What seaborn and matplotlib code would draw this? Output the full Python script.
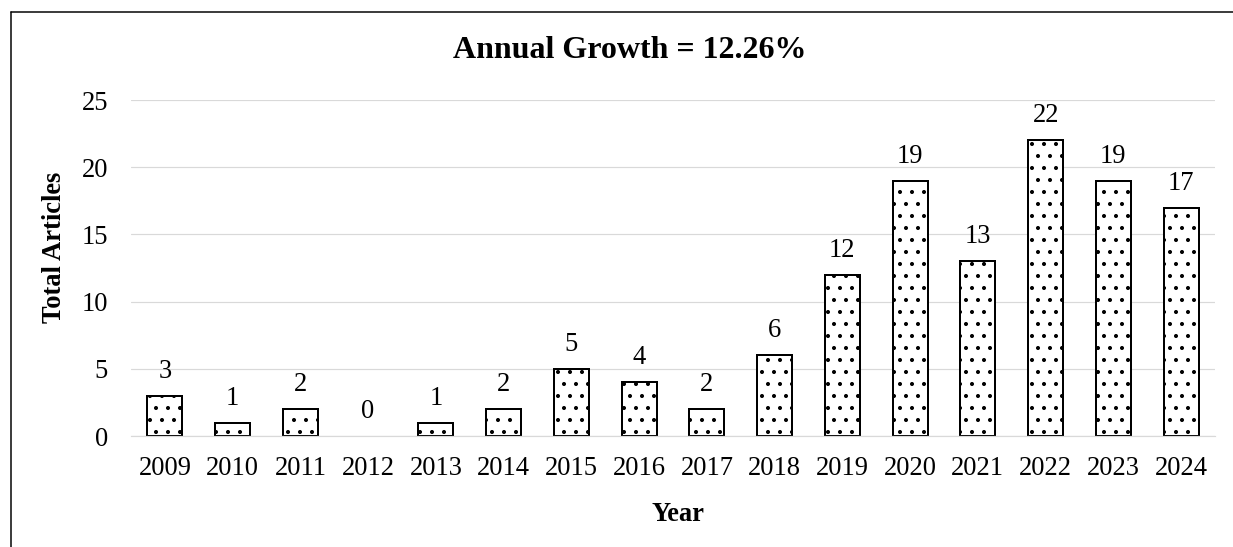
import matplotlib
matplotlib.use("Agg")
import matplotlib.pyplot as plt
import seaborn as sns
import pandas as pd
from matplotlib.lines import Line2D

years = ["2009", "2010", "2011", "2012", "2013", "2014", "2015", "2016",
         "2017", "2018", "2019", "2020", "2021", "2022", "2023", "2024"]
articles = [3, 1, 2, 0, 1, 2, 5, 4, 2, 6, 12, 19, 13, 22, 19, 17]
yticks = [0, 5, 10, 15, 20, 25]
title = "Annual Growth = 12.26%"

df = pd.DataFrame({"Year": years, "Total Articles": articles})

sns.set_theme(style="white")
plt.rcParams["font.family"] = ["Liberation Serif", "DejaVu Serif"]
plt.rcParams["hatch.linewidth"] = 1.6
plt.rcParams["hatch.color"] = "black"
plt.rcParams["text.color"] = "black"
plt.rcParams["axes.labelcolor"] = "black"

DPI = 72
fig = plt.figure(figsize=(1233 / DPI, 547 / DPI), dpi=DPI)
ax = fig.add_axes([131 / 1233, 1 - 436 / 547, 1084 / 1233, 336 / 547])

sns.barplot(data=df, x="Year", y="Total Articles", ax=ax, color="white",
            edgecolor="black", linewidth=2.0, width=0.52, saturation=1)
for p in ax.patches:
    p.set_hatch(".")
    if p.get_height() == 0:
        p.set_visible(False)

for i, v in enumerate(articles):
    ax.annotate(str(v), (i, v), xytext=(0, 12), textcoords="offset points",
                ha="center", va="bottom", fontsize=26.5, color="black",
                annotation_clip=False)

ax.set_ylim(0, 25)
ax.set_xlim(-0.5, len(years) - 0.5)
ax.set_yticks(yticks)
ax.yaxis.grid(True, color="#d9d9d9", linewidth=1.2)
ax.set_axisbelow(True)
for s in ax.spines.values():
    s.set_visible(False)
ax.spines["bottom"].set_visible(True)
ax.spines["bottom"].set_color("#d9d9d9")
ax.spines["bottom"].set_linewidth(1.2)
ax.tick_params(axis="both", labelsize=26.5, colors="black", length=0)
ax.tick_params(axis="y", pad=23)
ax.tick_params(axis="x", pad=20)
ax.set_xlabel("Year", fontsize=26.5, fontweight="bold")
ax.set_ylabel("Total Articles", fontsize=26.5, fontweight="bold")
ax.xaxis.set_label_coords(0.5043, -0.197)
ax.yaxis.set_label_coords(-0.059, 0.56)
fig.text(630 / 1233, 1 - 50 / 547, title, ha="center", va="center",
         fontsize=32, fontweight="bold")

# partial frame (top and left)
fig.add_artist(Line2D([11 / 1233, 1.0], [1 - 12 / 547, 1 - 12 / 547],
                      color="black", linewidth=1.5, transform=fig.transFigure))
fig.add_artist(Line2D([11 / 1233, 11 / 1233], [0.0, 1 - 12 / 547],
                      color="black", linewidth=1.5, transform=fig.transFigure))

fig.savefig("out.png", dpi=DPI)
